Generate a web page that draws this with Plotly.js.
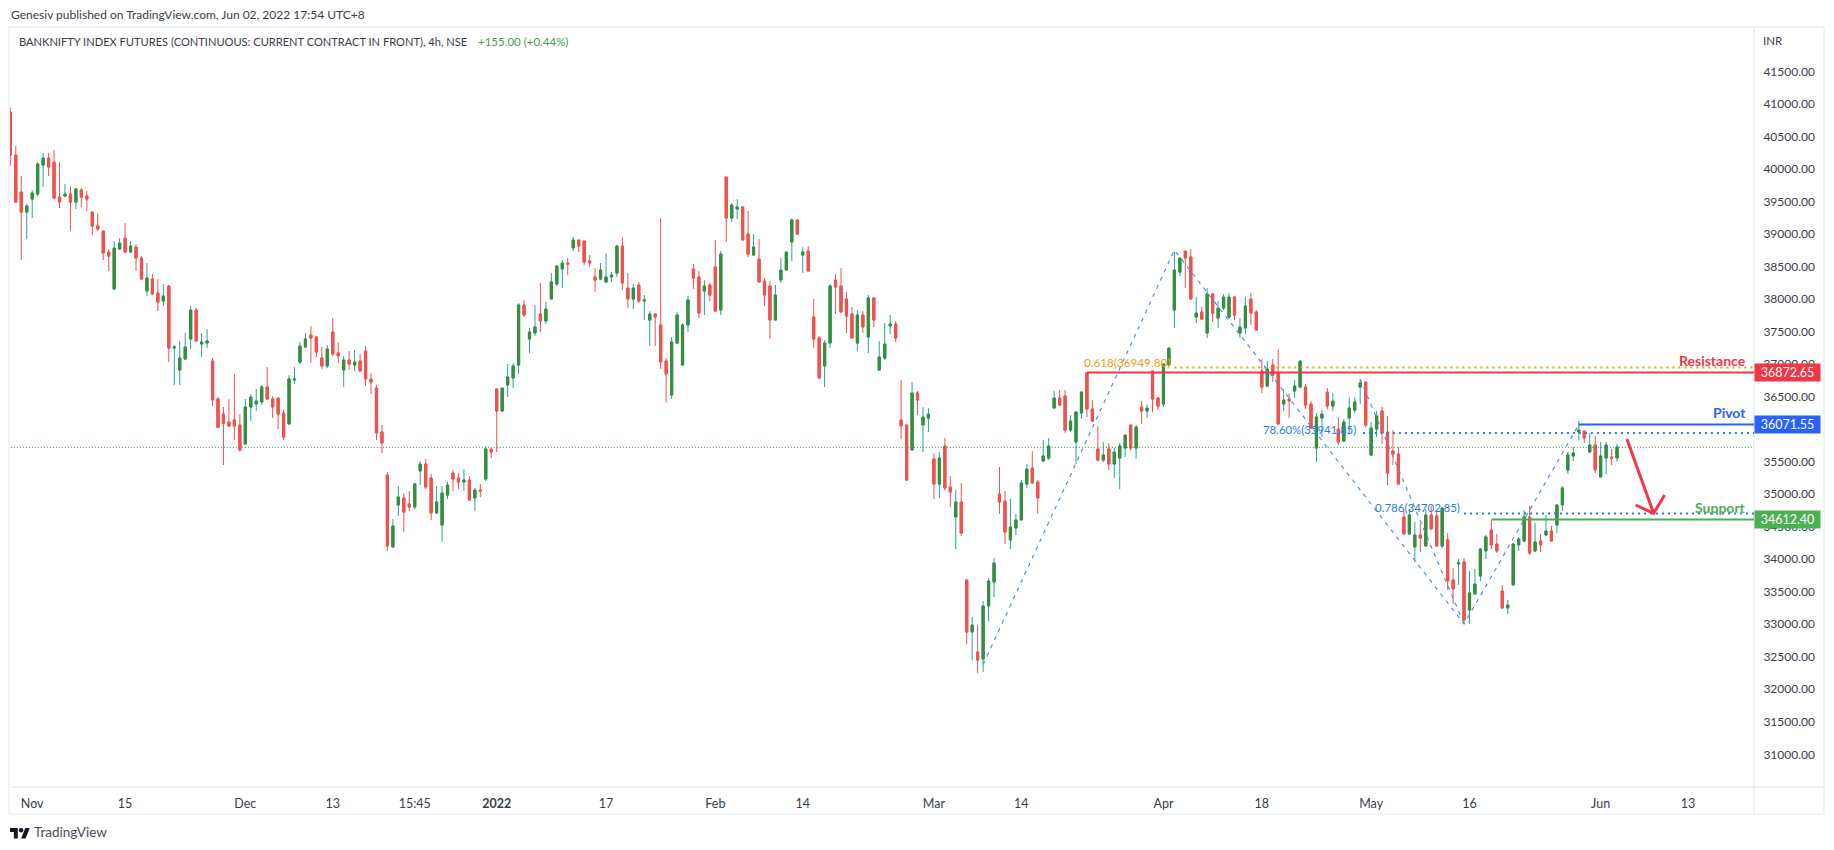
<!DOCTYPE html>
<html><head><meta charset="utf-8">
<script src="https://cdn.plot.ly/plotly-3.0.1.min.js"></script>
<style>html,body{margin:0;padding:0;background:#fff;overflow:hidden}#c{width:1834px;height:850px;position:relative}
#logo{position:absolute;left:10px;top:827px;width:20px;height:12px}</style></head><body>
<div id="c"></div>
<svg id="logo" viewBox="0 0 36 20"><path d="M14 20H7V8H0V1h14zM28 20h-8L27.5 1h8z" fill="#131722"/><circle cx="20" cy="5" r="4" fill="#131722"/></svg>
<script>
const opens=[
40879,40218,39649,39341,39541,39618,40064,40172,40110,39572,
39587,39618,39495,39680,39587,39341,39126,39049,38726,38157,
38772,38941,38726,38803,38634,38126,38311,38095,37972,38203,
37249,36911,37080,37388,37834,37311,37326,37049,36465,36234,
36111,36142,36065,35773,36342,36388,36419,36650,36465,36480,
36250,36080,36757,37034,37265,37449,37418,37096,36973,37496,
37173,36911,37065,36988,37049,37203,36773,36634,35957,35296,
34189,34835,34942,34850,34804,35357,35465,35250,34711,34527,
34988,35327,35250,35188,35219,34942,35065,35235,35696,36619,
36281,36680,36788,36988,37911,37388,37480,37773,37665,38003,
38234,38465,38557,38788,38911,38895,38588,38342,38311,38265,
38342,38403,38818,38172,38003,38219,37973,37680,37773,37603,
37050,36527,37326,36988,37603,38465,38342,38126,38219,38495,
37834,39880,39249,39388,39418,39003,38680,38618,38280,38203,
37680,38295,38449,38880,39218,38680,38742,37726,37403,36973,
37326,38295,38203,38003,37773,37326,37757,37419,38019,36911,
37096,37588,37619,36142,36065,35681,36557,36065,36172,35542,
35157,35742,35111,34650,34880,33681,32881,32573,32466,33281,
33650,35003,34896,34296,34480,34604,35157,35403,35188,35511,
35557,36326,36480,36511,35988,35803,36249,36870,36311,35696,
35526,35696,35465,35557,35711,36065,35711,36342,36280,36895,
36480,36388,36988,37833,38418,38741,38649,37726,37803,37480,
38080,37711,37864,37726,38033,37480,37557,38003,37803,36895,
36665,36988,36865,36388,36465,36588,36649,36649,36388,35711,
36172,36572,36357,36003,35818,36172,36295,36649,36726,35603,
36003,36280,35957,35665,35619,34650,34389,34189,34374,34204,
34681,34666,34204,34297,33681,33927,33958,33220,33466,33743,
34127,34450,34235,33512,33251,33605,34220,34281,34650,34127,
34281,34374,34435,34527,34835,35373,35589,35958,35973,35650,
35758,35266,35558,35573,35558];
const highs=[
40946,40356,39895,39464,39680,40110,40249,40249,40295,40110,
39772,39741,39710,39710,39664,39341,39326,39049,38772,38895,
38941,39172,38895,38849,38664,38557,38388,38311,38234,38218,
37296,37357,37480,37895,37865,37480,37542,37096,36496,36342,
36465,36850,36234,36465,36542,36619,36680,36957,36511,36480,
36296,36834,36957,37342,37480,37588,37434,37265,37296,37711,
37342,37126,37203,37219,37157,37280,36865,36680,36065,35342,
34619,35127,35019,35050,35173,35511,35542,35311,35127,35127,
35188,35373,35327,35388,35281,35096,35158,35742,35696,36619,
36634,37003,37019,37942,37988,37557,37911,38249,37957,38403,
38511,38603,38634,38957,38911,38895,38680,38480,38557,38711,
38419,38834,38957,38403,38234,38265,38065,37819,37773,39249,
37096,37419,37803,37634,38049,38542,38434,38295,38249,38911,
38742,39880,39480,39541,39434,39357,39003,38926,38326,38280,
38219,38634,38726,39249,39234,38803,38818,38003,37434,37373,
38234,38388,38480,38111,37880,37834,37819,38065,38034,37357,
37634,37757,37665,36757,36065,36727,36588,36342,36326,35634,
35649,35865,35280,35065,35173,33681,33112,32988,33358,33711,
34019,35419,35050,34926,34696,35219,35465,35665,35219,35834,
35865,36588,36603,36603,36218,36280,36588,36870,36449,36049,
35803,35788,35711,35788,35911,36065,36065,36434,36388,36895,
36495,37018,37249,38726,38633,38741,38772,38033,37880,38172,
38095,37972,38080,38095,38049,37711,38033,38095,37833,37080,
37049,37080,37234,36618,36557,36757,37049,36695,36434,36249,
36295,36634,36557,36188,36157,36490,36495,36772,36726,36111,
36280,36342,36203,35988,35726,34758,34773,34574,34558,34773,
34820,34743,34789,34404,33866,34004,34020,33820,33851,34174,
34374,34604,34389,33605,33374,34251,34343,34758,34820,34558,
34389,34681,34512,34850,35127,35650,35727,36127,35973,35942,
35896,35804,35804,35696,35773];
const lows=[
40054,39480,38603,38926,39249,39587,39726,39895,39541,39403,
39572,39049,39387,39418,39357,38987,39049,38603,38434,38157,
38757,38711,38726,38434,38295,38049,38080,37819,37895,37034,
36680,36680,37065,37234,37357,37111,37249,36357,36024,35450,
36050,35834,35655,35773,36127,36280,36373,36450,36173,36004,
35834,36080,36696,37003,37249,37019,37111,36926,36942,37126,
37019,36650,36911,36896,36896,36665,36542,35834,35634,34127,
34189,34665,34419,34742,34773,35142,35081,34604,34711,34265,
34927,35050,35081,35050,34896,34742,34958,35204,35558,35650,
36265,36496,36634,36850,37726,37173,37434,37496,37619,38003,
38203,38172,38372,38742,38726,38526,38495,38111,38295,38249,
38265,38342,38142,37865,37849,37942,37680,37280,37280,36927,
36404,36465,37311,36988,37496,38157,37711,37757,37973,37803,
37757,38880,39188,39234,38911,38649,38665,38265,37896,37388,
37680,38249,38449,38588,38988,38403,38434,37250,36788,36650,
37250,37773,37803,37480,37403,37203,37480,37173,37573,36911,
37065,37465,37342,35850,35204,35681,36219,35649,35957,34926,
34942,35065,34803,34157,34357,32696,32450,32250,32266,33050,
33419,34696,34234,34157,34373,34604,35096,35157,34696,35496,
35526,36326,36372,35942,35957,35465,36157,36188,36111,35511,
35496,35373,35249,35080,35572,35665,35542,36080,36172,36265,
36295,36342,36988,37557,38356,38172,38003,37634,37680,37403,
37649,37557,37833,37695,37680,37403,37464,37603,37526,36557,
36649,36726,36080,36280,36172,36480,36634,36311,36003,35496,
35880,36311,36280,35757,35818,35926,36249,36388,36034,35603,
35880,35772,35142,35449,35157,34389,34374,33958,34112,34204,
34450,34204,34174,33528,33312,33605,33020,33005,33466,33666,
34004,34158,34097,33235,33158,33605,34127,34266,34066,34112,
34112,34358,34281,34404,34743,35312,35512,35835,35789,35635,
35327,35266,35312,35450,35496];
const closes=[
40218,39495,39341,39434,39633,40080,40172,40033,39557,39495,
39618,39495,39695,39572,39541,39126,39080,38711,38664,38787,
38864,38726,38818,38634,38311,38326,38080,37957,38049,37249,
37265,37096,37265,37834,37357,37342,37357,36450,36029,36091,
36050,36050,35681,36342,36496,36434,36650,36465,36342,36234,
35880,36773,36773,37280,37388,37403,37188,36973,37234,37157,
37126,37065,37003,37034,36896,36773,36726,35942,35788,34204,
34512,34958,34727,34804,35158,35465,35111,34711,34881,35019,
35142,35234,35188,35219,34912,35065,35050,35696,35650,36281,
36634,36804,36973,37911,37757,37496,37573,37665,37849,38265,
38511,38557,38542,38911,38818,38572,38557,38295,38449,38342,
38372,38818,38249,38003,38172,37973,37988,37773,37726,37034,
36850,37342,37757,37603,37988,38326,37788,38203,38065,37819,
38695,39249,39449,39418,38911,38695,38803,38265,38065,37680,
38065,38449,38726,39218,39003,38726,38434,37388,36788,37326,
38203,38188,37803,37742,37403,37757,37573,38019,37680,37111,
37311,37619,37403,36050,35219,36557,36450,36188,36234,35157,
35557,35096,35034,34880,34403,32881,32988,32450,33281,33665,
33942,34880,34419,34496,34604,35173,35388,35173,34942,35588,
35742,36480,36372,35988,36126,36265,36572,36311,36126,35526,
35603,35465,35649,35742,35911,35711,36034,36280,36326,36465,
36357,37003,37249,38449,38633,38633,38003,37787,37695,38080,
37787,37864,38033,38033,37757,37572,37895,37787,37526,36649,
36926,36834,36080,36449,36434,36665,37049,36372,36019,36188,
36234,36357,36434,35803,36111,36326,36418,36711,36065,36019,
36203,35942,35326,35619,35157,34389,34681,34374,34327,34681,
34466,34204,34789,33666,33543,33943,33066,33481,33620,34158,
34343,34220,34127,33251,33297,34235,34312,34650,34097,34266,
34220,34435,34281,34835,35096,35604,35635,35989,35866,35758,
35373,35589,35758,35558,35727];

const tickLabels=['Nov','15','Dec','13','15:45','<b>2022</b>','17','Feb','14','Mar','14','Apr','18','May','16','Jun','13'];
const tickBars=[4,21,43,59,74,89,109,129,145,169,185,211,229,249,267,291,307];

const priceTicks=[31000,31500,32000,32500,33000,33500,34000,34500,35000,35500,36000,36500,37000,37500,38000,38500,39000,39500,40000,40500,41000,41500];

const resistance=36872.65, pivot=36071.55, support=34612.40, lastDotted=35722;
const fib618=36949.80, fib786pct=35941.85, fib786=34702.85;
const waveBars=[178,213,266,287], wavePrices=[32380,38756,33005,36071];
const wave2Bars=[247,266], wave2Prices=[36772,33005];
const arrowBars=[295.8,300.7,null,297.4,300.7,302.7], arrowPrices=[35850,34706,null,34835,34706,34988];

const idx=opens.map((_,i)=>i);
const bodyHi=opens.map((o,i)=>Math.max(o,closes[i]));
const bodyLo=opens.map((o,i)=>Math.min(o,closes[i]));
const lastBar=319;

const TEAL='#26a69a',GREEN='#388e3c',RED='#ef5350',TV_RED='#f23645',TV_BLUE='#2962ff',TV_GREEN='#4caf50',ORANGE='#e5a117',FIB='#2a7de1';
const FONT='Lato,sans-serif';

function hline(x0,y,color,w,dash){return{type:'scatter',mode:'lines',x:[x0,lastBar+1],y:[y,y],line:{color:color,width:w,dash:dash||'solid'},hoverinfo:'skip',showlegend:false};}

const traces=[
 {type:'candlestick',x:idx,open:opens,high:highs,low:lows,close:closes,whiskerwidth:0,
  increasing:{line:{color:TEAL,width:1},fillcolor:GREEN},decreasing:{line:{color:RED,width:1},fillcolor:RED},hoverinfo:'skip',showlegend:false},
 {type:'candlestick',x:idx,open:opens,high:bodyHi,low:bodyLo,close:closes,whiskerwidth:0,
  increasing:{line:{color:GREEN,width:1},fillcolor:GREEN},decreasing:{line:{color:RED,width:1},fillcolor:RED},hoverinfo:'skip',showlegend:false},
 hline(-1,lastDotted,GREEN,1,'1px,2px'),
 hline(213,fib618,ORANGE,2,'2px,4px'),
 hline(197,resistance,TV_RED,2),
 hline(287,pivot,TV_BLUE,2),
 hline(247.5,fib786pct,FIB,2,'2px,4px'),
 hline(266,fib786,FIB,2,'2px,4px'),
 hline(271,support,TV_GREEN,2),
 {type:'scatter',mode:'lines',x:waveBars,y:wavePrices,line:{color:'#4a90e8',width:1.2,dash:'4px,5px'},hoverinfo:'skip',showlegend:false},
 {type:'scatter',mode:'lines',x:wave2Bars,y:wave2Prices,line:{color:'#4a90e8',width:1.2,dash:'4px,5px'},hoverinfo:'skip',showlegend:false},
 {type:'scatter',mode:'lines',x:arrowBars,y:arrowPrices,connectgaps:false,line:{color:TV_RED,width:3},hoverinfo:'skip',showlegend:false}
];

const L=10,R=1754,T=27,B=787;
const px=v=>(v-L)/(R-L), py=v=>(B-v)/(B-T);
function note(x,y,text,size,color,anchor){return{xref:'paper',yref:'paper',x:px(x),y:py(y),text:text,showarrow:false,xanchor:anchor||'left',yanchor:'middle',font:{family:FONT,size:size,color:color},borderpad:0};}
function dataNote(bar,price,text,size,color,anchor){return{xref:'x',yref:'y',x:bar,y:price,text:text,showarrow:false,xanchor:anchor||'right',yanchor:'middle',font:{family:FONT,size:size,color:color},borderpad:0};}
function tag(price,text,bg){return{xref:'paper',yref:'y',x:1,y:price,text:text,showarrow:false,xanchor:'left',yanchor:'middle',width:65,height:17,align:'center',bgcolor:bg,font:{family:FONT,size:12.5,color:'#fff'},borderpad:0};}

const annotations=[
 note(10,15,'Genesiv published on TradingView.com, Jun 02, 2022 17:54 UTC+8',12,'#3a3e4a'),
 note(18,41.5,'BANKNIFTY INDEX FUTURES (CONTINUOUS: CURRENT CONTRACT IN FRONT), 4h, NSE',11.1,'#3a3e4a'),
 note(477,41.5,'+155.00 (+0.44%)',11.5,'#4a9a52'),
 note(1762,41,'INR',11.5,'#3a3e4a'),
 note(33,832,'TradingView',13.5,'#4a4e59'),
 dataNote(317.8,37065,'<b>Resistance</b>',14,TV_RED),
 dataNote(317.8,36260,'<b>Pivot</b>',14,TV_BLUE),
 dataNote(317.8,34799,'<b>Support</b>',14,TV_GREEN),
 dataNote(196.3,37040,'0.618(36949.80)',11.7,ORANGE,'left'),
 dataNote(229,35990,'78.60%(35941.85)',11.4,FIB,'left'),
 dataNote(249.5,34790,'0.786(34702.85)',11.5,FIB,'left'),
 tag(resistance,'36872.65',TV_RED),
 tag(pivot,'36071.55',TV_BLUE),
 tag(support,'34612.40',TV_GREEN)
];

function frame(x0,y0,x1,y1,color,w){return{type:'line',xref:'paper',yref:'paper',x0:px(x0),y0:py(y0),x1:px(x1),y1:py(y1),line:{color:color,width:w},layer:'below'};}
const shapes=[
 frame(9,27,1824,27,'#f0f3fa',2),
 frame(9,27,9,814,'#f0f3fa',2),
 frame(1824,27,1824,814,'#f0f3fa',2),
 frame(9,814,1824,814,'#f0f3fa',2),
 frame(1754,27,1754,814,'#e0e3eb',1),
 frame(10,787,1824,787,'#e0e3eb',1)
];

const layout={
 width:1834,height:850,margin:{l:L,r:1834-R,t:T,b:850-B,pad:0},paper_bgcolor:'#fff',plot_bgcolor:'#fff',
 showlegend:false,boxmode:'overlay',boxgap:0.6,boxgroupgap:0,hovermode:false,dragmode:false,
 xaxis:{range:[-0.06,319.06],rangeslider:{visible:false},showgrid:false,zeroline:false,showline:false,
  tickmode:'array',tickvals:tickBars,ticktext:tickLabels,ticks:'outside',ticklen:5,tickcolor:'rgba(0,0,0,0)',tickangle:0,
  tickfont:{family:FONT,size:12.5,color:'#3a3e4a'}},
 yaxis:{range:[30497,42188],side:'right',showgrid:false,zeroline:false,showline:false,
  tickmode:'array',tickvals:priceTicks,ticktext:priceTicks.map(v=>v.toFixed(2)),ticks:'outside',ticklen:6,tickcolor:'rgba(0,0,0,0)',
  tickfont:{family:FONT,size:12,color:'#3a3e4a'}},
 annotations:annotations,shapes:shapes
};
Plotly.newPlot('c',traces,layout,{displayModeBar:false,staticPlot:true});
</script></body></html>
